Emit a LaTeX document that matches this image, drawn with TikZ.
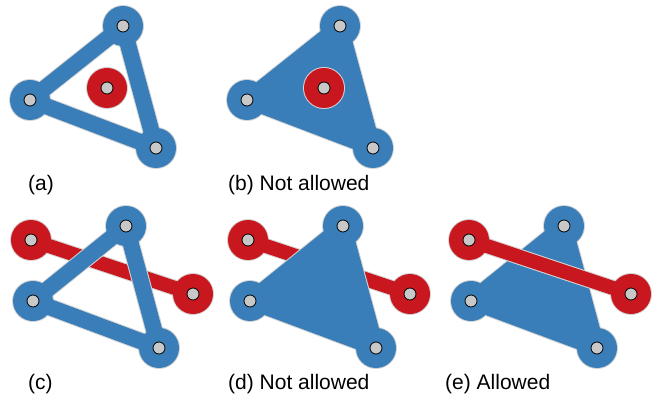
\documentclass[tikz,border=0pt]{standalone}
\usepackage{fontspec}
\setmainfont{Liberation Sans}
\definecolor{blueC}{RGB}{57,126,184}
\definecolor{redC}{RGB}{200,23,30}
\definecolor{dotgray}{RGB}{200,200,200}
\definecolor{rimgray}{RGB}{212,212,212}

% triangle made of thick bars with round joints
\newcommand{\blueframe}[3]{%
  \draw[rimgray, line width=18pt, line join=round] (#1)--(#2)--(#3)--cycle;
  \foreach \p in {#1,#2,#3} \fill[rimgray] (\p) circle (21pt);
  \draw[blueC, line width=16pt, line join=round] (#1)--(#2)--(#3)--cycle;
  \foreach \p in {#1,#2,#3} \fill[blueC] (\p) circle (20pt);
}
% solid triangle with round vertex blobs
\newcommand{\bluesolid}[3]{%
  \filldraw[rimgray, line width=18pt, line join=round] (#1)--(#2)--(#3)--cycle;
  \foreach \p in {#1,#2,#3} \fill[rimgray] (\p) circle (21pt);
  \filldraw[blueC, line width=16pt, line join=round] (#1)--(#2)--(#3)--cycle;
  \foreach \p in {#1,#2,#3} \fill[blueC] (\p) circle (20pt);
}
% red bar between two discs
\newcommand{\redbar}[2]{%
  \draw[rimgray, line width=16pt] (#1)--(#2);
  \foreach \p in {#1,#2} \fill[rimgray] (\p) circle (21pt);
  \draw[redC, line width=14pt] (#1)--(#2);
  \foreach \p in {#1,#2} \fill[redC] (\p) circle (20pt);
}
% single red disc
\newcommand{\reddisc}[1]{%
  \fill[rimgray] (#1) circle (21pt);
  \fill[redC] (#1) circle (20pt);
}

\begin{document}
\begin{tikzpicture}[x=1pt,y=-1pt,
  dot/.style={circle, minimum size=12pt, inner sep=0pt, fill=dotgray, draw=black, line width=0.8pt},
  caption/.style={anchor=base west, inner sep=0pt, font=\fontsize{21pt}{25pt}\selectfont}]
\useasboundingbox (0,0) rectangle (668,403);

% vertex positions
\coordinate (aT) at (123,26);  \coordinate (aL) at (30,100);  \coordinate (aB) at (156,148);
\coordinate (aR) at (107,88);
\coordinate (bT) at (340,26);  \coordinate (bL) at (247,100); \coordinate (bB) at (373,148);
\coordinate (bR) at (324,88);
\coordinate (cT) at (126,226); \coordinate (cL) at (33,301);  \coordinate (cB) at (159,348);
\coordinate (cP) at (31,240);  \coordinate (cQ) at (193,294);
\coordinate (dT) at (343,226); \coordinate (dL) at (250,301); \coordinate (dB) at (376,348);
\coordinate (dP) at (248,240); \coordinate (dQ) at (410,294);
\coordinate (eT) at (564,226); \coordinate (eL) at (471,301); \coordinate (eB) at (597,348);
\coordinate (eP) at (469,240); \coordinate (eQ) at (631,294);

% (a)
\blueframe{aT}{aL}{aB}
\reddisc{aR}
% (b)
\bluesolid{bT}{bL}{bB}
\reddisc{bR}
% (c)
\redbar{cP}{cQ}
\blueframe{cT}{cL}{cB}
% (d)
\redbar{dP}{dQ}
\bluesolid{dT}{dL}{dB}
% (e)
\bluesolid{eT}{eL}{eB}
\redbar{eP}{eQ}

% point markers
\foreach \p in {aT,aL,aB,aR,bT,bL,bB,bR,cT,cL,cB,cP,cQ,dT,dL,dB,dP,dQ,eT,eL,eB,eP,eQ}
  \node[dot] (\p-dot) at (\p) {};

% captions
\node[caption] (capA) at (28,191) {(a)};
\node[caption] (capB) at (228,191) {(b) Not allowed};
\node[caption] (capC) at (28,389) {(c)};
\node[caption] (capD) at (228,389) {(d) Not allowed};
\node[caption] (capE) at (445,389) {(e) Allowed};
\end{tikzpicture}
\end{document}
